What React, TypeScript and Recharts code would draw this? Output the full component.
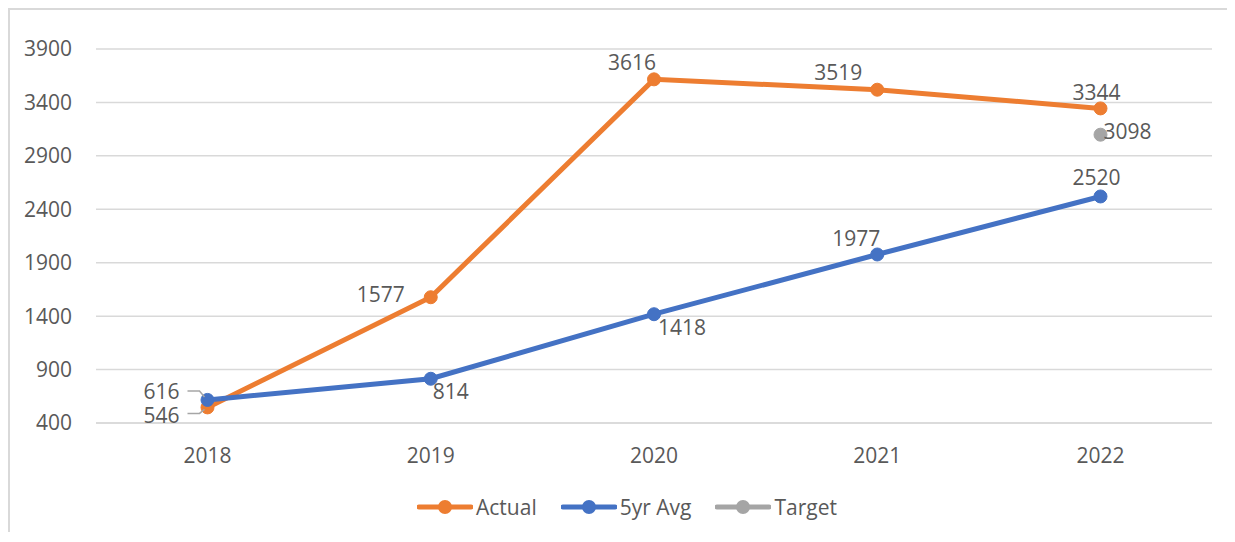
import React from "react";
import { LineChart, Line, XAxis, YAxis, CartesianGrid, Legend, LabelList } from "recharts";

const years = ["2018", "2019", "2020", "2021", "2022"];
const actual = [546, 1577, 3616, 3519, 3344];
const fiveYrAvg = [616, 814, 1418, 1977, 2520];
const target: (number | null)[] = [null, null, null, null, 3098];
const yTicks = [400, 900, 1400, 1900, 2400, 2900, 3400, 3900];

const data = years.map((year, i) => ({
  year,
  actual: actual[i],
  avg: fiveYrAvg[i],
  target: target[i],
}));

const TEXT = "#595959";
const FONT = "'Open Sans', 'Noto Sans', sans-serif";
const FS = 21;

type Place = { dx: number; dy: number; anchor: "start" | "middle" | "end"; leader?: number[][] };

// label placement per point, relative to the dot
const actualPlaces: Place[] = [
  { dx: -28, dy: 8, anchor: "end", leader: [[-20, 6], [-8, 6], [-3, 2]] },
  { dx: -26, dy: -3, anchor: "end" },
  { dx: -22, dy: -17, anchor: "middle" },
  { dx: -39, dy: -17, anchor: "middle" },
  { dx: -4, dy: -16, anchor: "middle" },
];
const avgPlaces: Place[] = [
  { dx: -28, dy: -8, anchor: "end", leader: [[-20, -9], [-8, -9], [-3, -3]] },
  { dx: 2, dy: 13, anchor: "start" },
  { dx: 4, dy: 13, anchor: "start" },
  { dx: -21, dy: -16, anchor: "middle" },
  { dx: -4, dy: -19, anchor: "middle" },
];
const targetPlaces: Place[] = [
  { dx: 0, dy: 0, anchor: "start" },
  { dx: 0, dy: 0, anchor: "start" },
  { dx: 0, dy: 0, anchor: "start" },
  { dx: 0, dy: 0, anchor: "start" },
  { dx: 3, dy: -3, anchor: "start" },
];

const makeLabel = (places: Place[]) => (props: any) => {
  const { x, y, value, index } = props;
  if (value == null || x == null || y == null) return null;
  const p = places[index];
  return (
    <g>
      {p.leader && (
        <polyline
          points={p.leader.map(([a, b]) => `${x + a},${y + b}`).join(" ")}
          fill='none'
          stroke='#a6a6a6'
          strokeWidth={1.5}
        />
      )}
      <text
        x={x + p.dx}
        y={y + p.dy}
        dy='0.355em'
        textAnchor={p.anchor}
        fill={TEXT}
        fontSize={FS}
        fontFamily={FONT}>
        {value}
      </text>
    </g>
  );
};

const legendItems = [
  { name: "Actual", color: "#ed7d31" },
  { name: "5yr Avg", color: "#4472c4" },
  { name: "Target", color: "#a5a5a5" },
];

const renderLegend = () => (
  <div
    style={{
      height: 30,
      display: "flex",
      justifyContent: "center",
      alignItems: "center",
      paddingLeft: 56,
      fontFamily: FONT,
      fontSize: FS,
      color: TEXT,
    }}>
    {legendItems.map((item) => (
      <div
        key={item.name}
        style={{ display: "flex", alignItems: "center", marginRight: 24 }}>
        <svg
          width={56}
          height={20}>
          <line
            x1={2}
            y1={10}
            x2={54}
            y2={10}
            stroke={item.color}
            strokeWidth={5}
            strokeLinecap='round'
          />
          <circle
            cx={28}
            cy={10}
            r={7}
            fill={item.color}
          />
        </svg>
        <span style={{ marginLeft: 3 }}>{item.name}</span>
      </div>
    ))}
  </div>
);

export default function App() {
  return (
    <div style={{ width: 1217, height: 522, borderLeft: "2px solid #d9d9d9", borderTop: "2px solid #d9d9d9", background: "#fff" }}>
      <style>{"html, body { overflow: hidden; }"}</style>
      <LineChart
        width={1215}
        height={520}
        data={data}
        margin={{ top: 39, right: 13, left: 0, bottom: 8 }}>
        <CartesianGrid
          vertical={false}
          stroke='#d9d9d9'
          strokeWidth={1.5}
        />
        <XAxis
          dataKey='year'
          height={69}
          padding={{ left: 111.5, right: 111.5 }}
          axisLine={{ stroke: "#d9d9d9", strokeWidth: 1.5 }}
          tickLine={false}
          tickSize={0}
          tickMargin={25}
          tick={{ fill: TEXT, fontSize: FS, fontFamily: FONT }}
        />
        <YAxis
          width={86}
          domain={[400, 3900]}
          ticks={yTicks}
          interval={0}
          axisLine={false}
          tickLine={false}
          tickSize={0}
          tickMargin={24}
          tick={{ fill: TEXT, fontSize: FS, fontFamily: FONT }}
        />
        <Legend
          verticalAlign='bottom'
          content={renderLegend}
        />
        <Line
          dataKey='actual'
          name='Actual'
          stroke='#ed7d31'
          strokeWidth={5}
          dot={{ r: 6.5, fill: "#ed7d31", stroke: "#ed7d31", strokeWidth: 1 }}
          isAnimationActive={false}>
          <LabelList
            dataKey='actual'
            content={makeLabel(actualPlaces)}
          />
        </Line>
        <Line
          dataKey='avg'
          name='5yr Avg'
          stroke='#4472c4'
          strokeWidth={5}
          dot={{ r: 6.5, fill: "#4472c4", stroke: "#4472c4", strokeWidth: 1 }}
          isAnimationActive={false}>
          <LabelList
            dataKey='avg'
            content={makeLabel(avgPlaces)}
          />
        </Line>
        <Line
          dataKey='target'
          name='Target'
          stroke='#a5a5a5'
          strokeWidth={5}
          dot={{ r: 6.5, fill: "#a5a5a5", stroke: "#a5a5a5", strokeWidth: 1 }}
          isAnimationActive={false}>
          <LabelList
            dataKey='target'
            content={makeLabel(targetPlaces)}
          />
        </Line>
      </LineChart>
    </div>
  );
}
